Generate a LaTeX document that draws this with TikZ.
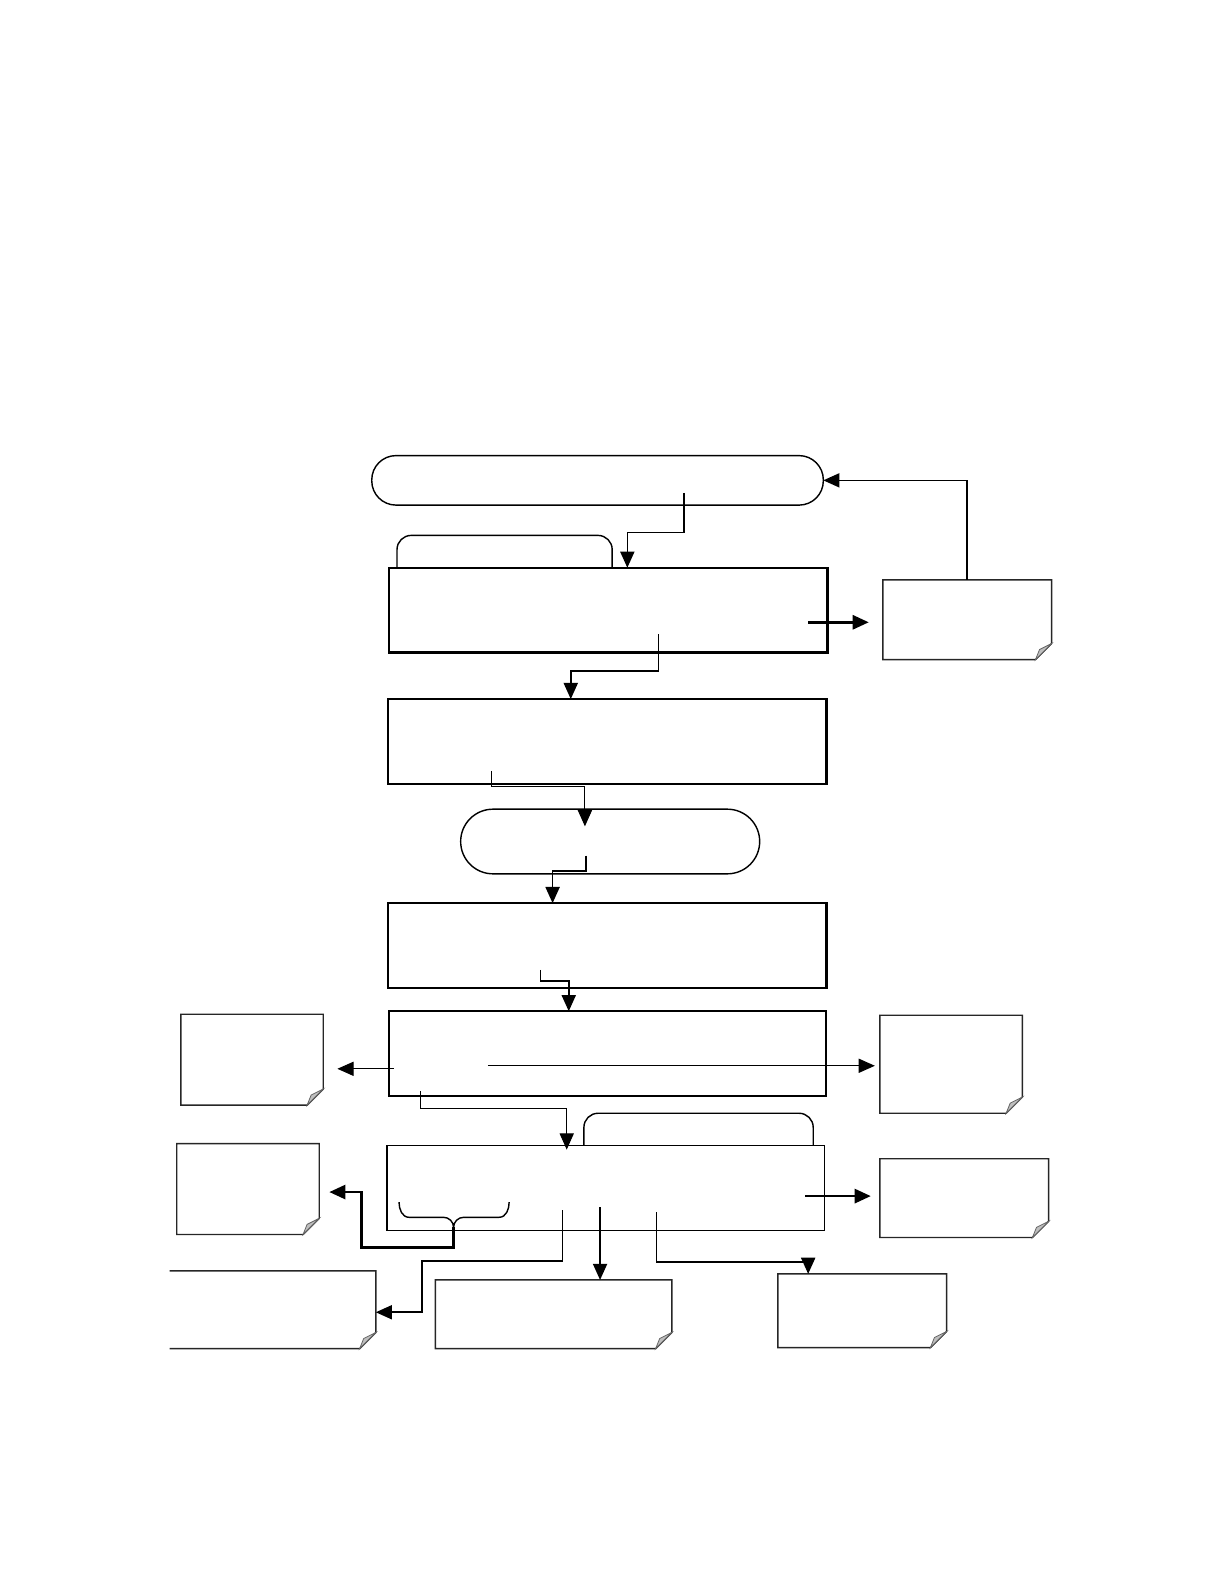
\documentclass[tikz,border=0pt]{standalone}
\usetikzlibrary{arrows.meta,calc}

% folded-corner page outline round a named (invisible) node
\newcommand\pagefold[1]{%
  \draw[notepen] (#1.south west) -- (#1.north west) -- (#1.north east)
    -- ($(#1.south east)+(0pt,8pt)$) -- ($(#1.south east)+(-8pt,0pt)$) -- cycle;
  \filldraw[flap] ($(#1.south east)+(0pt,8pt)$) -- ($(#1.south east)+(-6pt,5pt)$)
    -- ($(#1.south east)+(-8pt,0pt)$) -- cycle;}
% same, with the left edge left open
\newcommand\pagefoldopen[1]{%
  \draw[notepen] (#1.south west) -- ($(#1.south east)+(-8pt,0pt)$)
    -- ($(#1.south east)+(0pt,8pt)$) -- (#1.north east) -- (#1.north west);
  \filldraw[flap] ($(#1.south east)+(0pt,8pt)$) -- ($(#1.south east)+(-6pt,5pt)$)
    -- ($(#1.south east)+(-8pt,0pt)$) -- cycle;}

\begin{document}
\begin{tikzpicture}[x=0.5pt, y=-0.5pt,
    box/.style={draw, line width=1.2pt, inner sep=0pt, outer sep=0pt,
                minimum width=217pt, minimum height=42pt},
    pill/.style={draw, line width=0.7pt, rounded corners=#1, inner sep=0pt, outer sep=0pt},
    pill/.default=12pt,
    page/.style={inner sep=0pt, outer sep=0pt},
    notepen/.style={draw=black!85, line width=0.7pt},
    flap/.style={fill=black!25, draw=black!60, line width=0.4pt},
    tab/.style={draw, line width=0.7pt, rounded corners=7pt},
    con/.style={-{Triangle[length=8pt,width=7pt]}, line width=0.8pt},
    fine/.style={con, line width=0.5pt},
    heavy/.style={con, line width=1.3pt}]
  \useasboundingbox (0,0) rectangle (1212,1568);

  % main column
  \node[pill=12pt, minimum width=223.5pt, minimum height=24.5pt] (pill1) at (591.5,475.5) {};
  \node[box] (box1) at (602,604) {};
  \node[box] (box2) at (601,734) {};
  \node[pill=16pt, minimum width=148pt, minimum height=32pt] (pill2) at (604,833) {};
  \node[box] (box3) at (601,936) {};
  \node[box, line width=1pt, minimum width=216.5pt] (box4) at (601.5,1043) {};
  \node[box, line width=0.6pt, minimum width=216.5pt] (box5) at (599.5,1176) {};

  % tabs on top of the boxes
  \draw[tab] (393,0 |- box1.north) |- (606,530) -- (606,0 |- box1.north);
  \draw[tab] (578,0 |- box5.north) |- (805,1102) -- (805,0 |- box5.north);

  % pages
  \node[page, minimum width=83.5pt, minimum height=39.5pt] (nR1) at (957.5,613.5) {};
  \node[page, minimum width=70.5pt, minimum height=45pt]   (nA)  at (249.5,1049) {};
  \node[page, minimum width=70.5pt, minimum height=48.5pt] (nB)  at (941.5,1053.5) {};
  \node[page, minimum width=70.5pt, minimum height=45pt]   (nC)  at (245.5,1177) {};
  \node[page, minimum width=83.5pt, minimum height=39pt]   (nD)  at (954.5,1186) {};
  \node[page, minimum width=102pt, minimum height=38.5pt]  (nE)  at (270,1296.5) {};
  \node[page, minimum width=117pt, minimum height=34pt]    (nF)  at (548,1301) {};
  \node[page, minimum width=83.5pt, minimum height=36.5pt] (nG)  at (853.5,1297.5) {};
  \foreach \n in {nR1,nA,nB,nC,nD,nF,nG} {\pagefold{\n}}
  \pagefoldopen{nE}

  % flow down the column
  \draw[con] (677,488) |- (621,527) -- (621,0 |- box1.north);
  \draw[con] (652,628) |- (565,664) -- (565,0 |- box2.north);
  \draw[fine] (487,763) |- (579,779) -- (579,818);
  \draw[con] (580,847) |- (547,862) -- (547,0 |- box3.north);
  \draw[con] (535,960) |- (563,971) -- (563,0 |- box4.north);
  \draw[fine] (416,1080) |- (561,1097) -- (561,1138);

  % side branches
  \draw[con] (nR1.north) |- (pill1.east);
  \draw[heavy, shorten >=7pt] (800,616) -- (nR1.west |- 800,616);
  \draw[fine, shorten >=7pt] (390,1058) -- (nA.east |- 390,1058);
  \draw[fine, shorten >=2.5pt] (483,1055) -- (nB.west |- 483,1055);
  \draw[heavy, shorten >=4.5pt] (797,1184) -- (nD.west |- 797,1184);

  % brace and its branch
  \draw[line width=0.7pt] (395,1190) to[out=-90,in=180] (405,1205) -- (439,1205)
    to[out=0,in=90] (449,1215) to[out=90,in=180] (459,1205) -- (494,1205)
    to[out=0,in=-90] (504,1190);
  \draw[heavy, shorten >=5pt] (449,1215) |- (358,1235) |- (nC.east |- 0,1180);

  % branches below the last box
  \draw[con] (557,1198) |- (418,1248) |- (nE.east |- 0,1299);
  \draw[con] (594,1195) -- (594,0 |- nF.north);
  \draw[con] (650,1200) |- (800,1249) -- (800,0 |- nG.north);
\end{tikzpicture}
\end{document}
